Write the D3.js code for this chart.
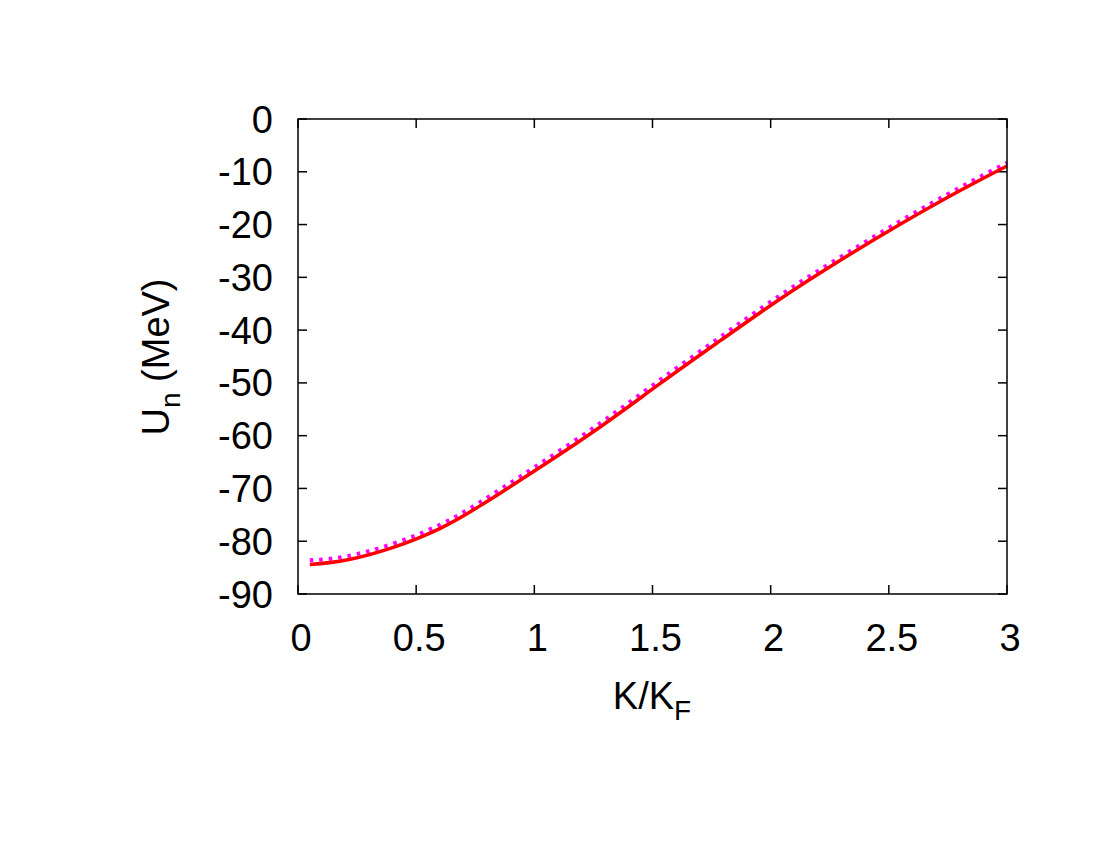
<!DOCTYPE html>
<html>
<head>
<meta charset="utf-8">
<script src="https://cdn.jsdelivr.net/npm/d3@7"></script>
<style>
  body { margin: 0; background: #fff; }
  svg { display: block; }
  text { font-family: "Liberation Sans", Arial, sans-serif; fill: #000; }
</style>
</head>
<body>
<script>
// K/KF sample points and the two potential curves (MeV)
var kValues   = [0.05, 0.2, 0.4, 0.6, 0.77, 1.0, 1.28, 1.53, 1.79, 2.04, 2.29, 2.55, 2.8, 3.0];
var redValues = [-84.4, -83.6, -81.2, -77.6, -73.3, -66.7, -58.3, -50.2, -41.9, -34.1, -26.9, -19.9, -13.6, -8.9];
var magValues = [-83.6, -82.9, -80.5, -76.9, -72.6, -66.0, -57.6, -49.5, -41.2, -33.4, -26.3, -19.3, -13.0, -8.3];

var xTicks = [0, 0.5, 1, 1.5, 2, 2.5, 3];
var xTickLabels = ["0", "0.5", "1", "1.5", "2", "2.5", "3"];
var yTicks = [0, -10, -20, -30, -40, -50, -60, -70, -80, -90];

window.onload = function() {
  var width = 1100, height = 850;
  var mLeft = 298, mRight = 1007, mTop = 119, mBottom = 594;

  var svg = d3.select('body').append('svg')
    .attr('width', width)
    .attr('height', height);

  var x = d3.scaleLinear().domain([0, 3]).range([mLeft, mRight]);
  var y = d3.scaleLinear().domain([-90, 0]).range([mBottom, mTop]);

  var tickLen = 9;

  // ticks on all four sides, pointing inward
  var axisLayer = svg.append('g').attr('stroke', '#000').attr('stroke-width', 1.5);
  xTicks.forEach(function(t) {
    axisLayer.append('line').attr('x1', x(t)).attr('x2', x(t)).attr('y1', mBottom).attr('y2', mBottom - tickLen);
    axisLayer.append('line').attr('x1', x(t)).attr('x2', x(t)).attr('y1', mTop).attr('y2', mTop + tickLen);
  });
  yTicks.forEach(function(t) {
    axisLayer.append('line').attr('x1', mLeft).attr('x2', mLeft + tickLen).attr('y1', y(t)).attr('y2', y(t));
    axisLayer.append('line').attr('x1', mRight).attr('x2', mRight - tickLen).attr('y1', y(t)).attr('y2', y(t));
  });

  // tick labels
  svg.selectAll('.xl').data(xTicks).enter().append('text')
    .attr('class', 'xl')
    .attr('x', function(d) { return x(d) + 3; })
    .attr('y', 651)
    .attr('text-anchor', 'middle')
    .attr('font-size', 38)
    .text(function(d, i) { return xTickLabels[i]; });

  svg.selectAll('.yl').data(yTicks).enter().append('text')
    .attr('class', 'yl')
    .attr('x', 273)
    .attr('y', function(d) { return y(d) + 13.5; })
    .attr('text-anchor', 'end')
    .attr('font-size', 38)
    .text(function(d) { return d; });

  // curves
  var line = d3.line().curve(d3.curveNatural);
  var plot = svg.append('g');

  plot.append('path')
    .datum(kValues.map(function(k, i) { return [x(k), y(magValues[i])]; }))
    .attr('d', line)
    .attr('fill', 'none')
    .attr('stroke', '#ff00ff')
    .attr('stroke-width', 4)
    .attr('stroke-dasharray', '3.5,6');

  plot.append('path')
    .datum(kValues.map(function(k, i) { return [x(k), y(redValues[i])]; }))
    .attr('d', line)
    .attr('fill', 'none')
    .attr('stroke', '#ff0000')
    .attr('stroke-width', 3.5);

  // frame
  svg.append('rect')
    .attr('x', mLeft).attr('y', mTop)
    .attr('width', mRight - mLeft).attr('height', mBottom - mTop)
    .attr('fill', 'none')
    .attr('stroke', '#000')
    .attr('stroke-width', 1.5);

  // axis titles
  var xt = svg.append('text')
    .attr('x', 652).attr('y', 709)
    .attr('text-anchor', 'middle')
    .attr('font-size', 38);
  xt.append('tspan').text('K/K');
  xt.append('tspan').attr('font-size', 28).attr('dy', 11).text('F');

  var yt = svg.append('text')
    .attr('transform', 'translate(169,357) rotate(-90)')
    .attr('text-anchor', 'middle')
    .attr('font-size', 38);
  yt.append('tspan').text('U');
  yt.append('tspan').attr('font-size', 28).attr('dy', 11).text('n');
  yt.append('tspan').attr('dy', -11).text(' (MeV)');
};
</script>
</body>
</html>
